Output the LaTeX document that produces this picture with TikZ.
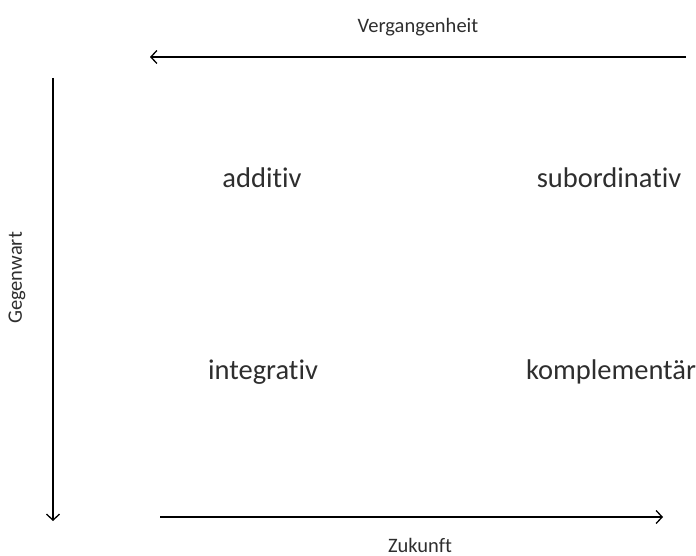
\documentclass[tikz,border=0pt]{standalone}
\usepackage{fontspec}
\setmainfont{Carlito}[Ligatures={NoCommon,NoContextual}]
\usetikzlibrary{arrows.meta}
\newcommand{\lbl}[1]{{\fontsize{20.5}{24}\selectfont #1}}
\newcommand{\term}[1]{{\fontsize{28.5}{34}\selectfont #1}}

\begin{document}
\begin{tikzpicture}[x=1pt, y=-1pt, >={Straight Barb[length=6pt,width=13pt]}, line width=1.3pt, text=black!82]
      \useasboundingbox (0,0) rectangle (696,556);

      \coordinate (pastR) at (686,57);
      \coordinate (pastL) at (150,57);
      \coordinate (nowT) at (53,78);
      \coordinate (nowB) at (53,521);
      \coordinate (futL) at (160,517);
      \coordinate (futR) at (663,517);

      \node [name=past] at (418,27) {\lbl{Vergangenheit}};
      \node [name=now, rotate=90] at (17,278) {\lbl{Gegenwart}};
      \node [name=fut] at (420,545) {\lbl{Zukunft}};

      \node [name=add] at (262,178) {\term{additiv}};
      \node [name=sub] at (609,178) {\term{subordinativ}};
      \node [name=int] at (263,372) {\term{integrativ}};
      \node [name=kom] at (611,372) {\term{komplementär}};

      \draw [->] (pastR) -- (pastL);
      \draw [->] (nowT) -- (nowB);
      \draw [->] (futL) -- (futR);

    \end{tikzpicture}
\end{document}
